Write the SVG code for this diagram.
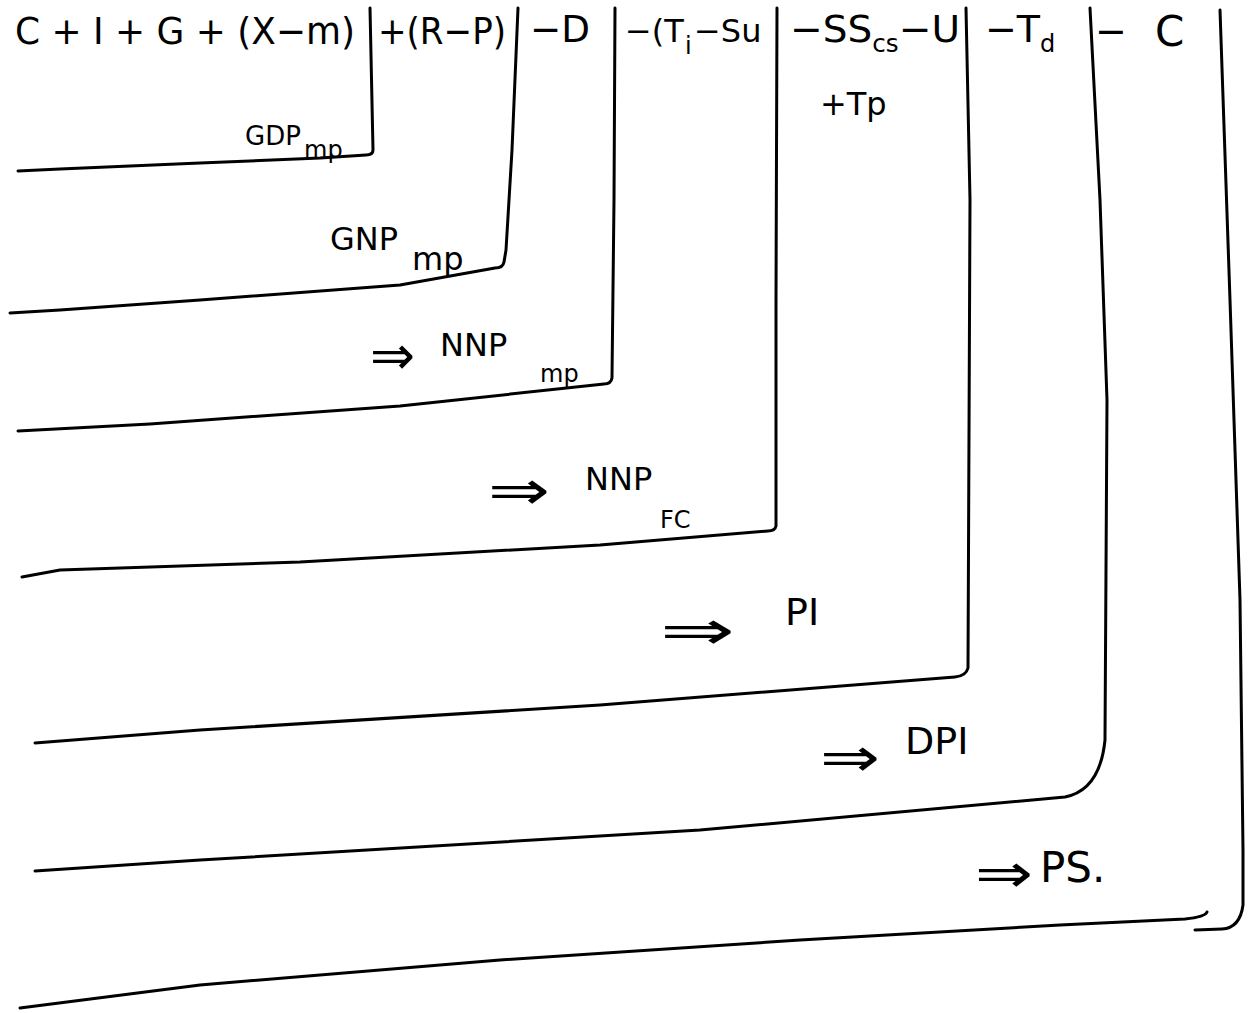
<svg xmlns="http://www.w3.org/2000/svg" width="1249" height="1013" viewBox="0 0 1249 1013">
<style>
.ln{fill:none;stroke:#000;stroke-width:3;stroke-linecap:round;stroke-linejoin:round}
.t{font-family:"DejaVu Sans","Liberation Sans",sans-serif;fill:#000}
.big{font-size:38px}
.mid{font-size:32px}
.sm{font-size:24px}
.ar{font-size:54px}
</style>
<rect width="1249" height="1013" fill="#fff"/>
<g id="connectors">
<path class="ln" d="M370,8 L373,150 Q373,155 366,155 L320,158 L200,163 L60,169 L18,171"/>
<path class="ln" d="M518,8 L512,150 L506,250 L504,262 Q503,268 495,268 L400,285 L200,300 L60,310 L10,313"/>
<path class="ln" d="M615,8 L614,200 L612,378 Q611,384 604,384 L400,406 L150,424 L18,431"/>
<path class="ln" d="M777,8 L776,300 L776,526 Q775,531 768,531 L600,545 L300,562 L60,570 L22,577"/>
<path class="ln" d="M966,8 L970,200 L968,668 Q966,676 955,677 L600,705 L200,730 L35,743"/>
<path class="ln" d="M1090,8 L1100,200 L1107,400 L1105,740 Q1100,790 1065,797 L700,830 L200,860 L35,871"/>
<path class="ln" d="M1220,10 L1230,300 L1240,600 L1243,850 L1243,905 Q1240,928 1222,929 L1195,930"/>
<path class="ln" d="M20,1008 L200,985 L500,960 L800,940 L1060,925 L1185,919 Q1205,917 1207,912"/>
</g>
<g id="top-terms">
<text class="t big" x="15" y="44" textLength="340" lengthAdjust="spacingAndGlyphs">C + I + G + (X−m)</text>
<text class="t big" x="378" y="44" textLength="128" lengthAdjust="spacingAndGlyphs">+(R−P)</text>
<text class="t big" x="530" y="42" textLength="60" lengthAdjust="spacingAndGlyphs">−D</text>
<text class="t mid" x="625" y="42">−(T</text>
<text class="t sm" x="685" y="54">i</text>
<text class="t mid" x="694" y="42">−Su</text>
<text class="t big" x="790" y="42" textLength="170" lengthAdjust="spacingAndGlyphs">−SS<tspan class="sm" dy="10">cs</tspan><tspan dy="-10">−U</tspan></text>
<text class="t mid" x="820" y="115">+Tp</text>
<text class="t big" x="985" y="42">−T<tspan class="sm" dy="10">d</tspan></text>
<text class="t big" x="1095" y="44">−</text>
<text class="t" style="font-size:42px" x="1155" y="46">C</text>
</g>
<g id="gdp">
<text class="t" style="font-size:26px" x="245" y="145">GDP</text>
<text class="t sm" x="304" y="158">mp</text>
</g>
<g id="gnp">
<text class="t mid" x="330" y="250">GNP</text>
<text class="t mid" x="412" y="270">mp</text>
</g>
<g id="nnp-mp">
<text class="t ar" x="370" y="374" textLength="45" lengthAdjust="spacingAndGlyphs">⇒</text>
<text class="t mid" x="440" y="356">NNP</text>
<text class="t sm" x="540" y="382">mp</text>
</g>
<g id="nnp-fc">
<text class="t ar" x="488" y="509" textLength="62" lengthAdjust="spacingAndGlyphs">⇒</text>
<text class="t mid" x="585" y="490">NNP</text>
<text class="t sm" x="660" y="528">FC</text>
</g>
<g id="pi">
<text class="t ar" x="660" y="649" textLength="75" lengthAdjust="spacingAndGlyphs">⇒</text>
<text class="t big" x="785" y="625">PI</text>
</g>
<g id="dpi">
<text class="t ar" x="820" y="776" textLength="60" lengthAdjust="spacingAndGlyphs">⇒</text>
<text class="t big" x="905" y="754">DPI</text>
</g>
<g id="ps">
<text class="t ar" x="975" y="892" textLength="58" lengthAdjust="spacingAndGlyphs">⇒</text>
<text class="t" style="font-size:42px" x="1040" y="882">PS.</text>
</g>
</svg>
